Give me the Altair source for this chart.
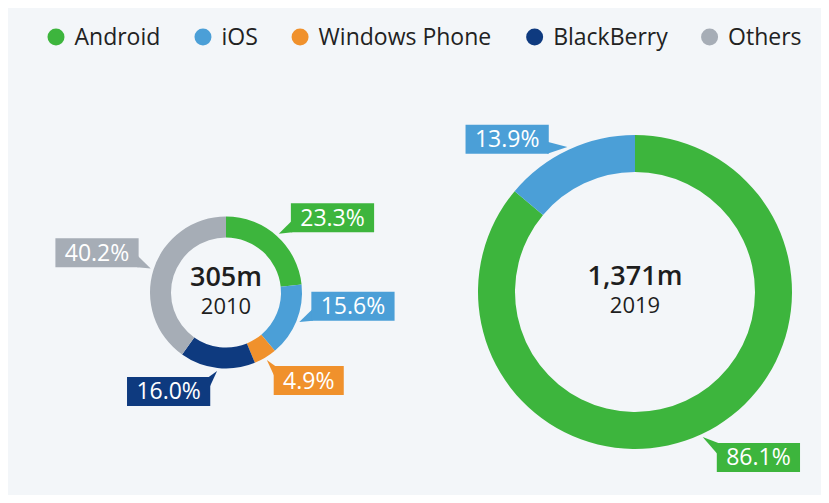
import math
import altair as alt
import pandas as pd

# ---------------- data ----------------
os_names = ["Android", "iOS", "Windows Phone", "BlackBerry", "Others"]
os_colors = ["#3db53d", "#4b9fd7", "#f0912c", "#0e3a7f", "#a6adb6"]

os_2010 = ["Android", "iOS", "Windows Phone", "BlackBerry", "Others"]
share_2010 = [23.3, 15.6, 4.9, 16.0, 40.2]
os_2019 = ["Android", "iOS"]
share_2019 = [86.1, 13.9]

totals = ["305m", "1,371m"]
years = ["2010", "2019"]

# ---------------- layout ----------------
W, H = 813, 487
FONT = "Open Sans"
LABEL_FS = 23
LEGEND_FS = 23
donuts = [
    dict(cx=218, cy=284.5, r=76, r2=55, os=os_2010, share=share_2010, year=years[0], total=totals[0]),
    dict(cx=627, cy=284, r=157, r2=120, os=os_2019, share=share_2019, year=years[1], total=totals[1]),
]

# approximate Open Sans advance widths (em)
CW = {".": 0.267, "%": 0.853, ",": 0.279, " ": 0.260,
      "A": 0.633, "n": 0.614, "d": 0.613, "r": 0.408, "o": 0.604, "i": 0.253,
      "O": 0.781, "S": 0.536, "W": 0.928, "w": 0.801, "s": 0.477, "P": 0.603,
      "h": 0.614, "e": 0.561, "B": 0.633, "l": 0.253, "a": 0.556, "c": 0.476,
      "k": 0.525, "y": 0.501, "t": 0.353}


def text_w(s, fs):
    return sum(CW.get(ch, 0.572) for ch in s) * fs


xs = alt.Scale(domain=[0, W], nice=False, zero=False)
ys = alt.Scale(domain=[0, H], nice=False, zero=False, reverse=True)
cs = alt.Scale(domain=os_names, range=os_colors)

layers = []
box_rows, tri_rows = [], []
for di, d in enumerate(donuts):
    df = pd.DataFrame({"os": d["os"], "share": d["share"], "idx": list(range(len(d["os"])))})
    arc = alt.Chart(df).mark_arc(radius=d["r"], radius2=d["r2"], stroke=None).encode(
        theta=alt.Theta("share:Q", stack=True, scale=alt.Scale(domain=[0, 100])),
        color=alt.Color("os:N", scale=cs, legend=None),
        order=alt.Order("idx:Q"),
        x=alt.value(d["cx"]),
        y=alt.value(d["cy"]),
    )
    layers.append(arc)

    # labels derived from cumulative shares
    r = d["r"]
    cum = 0.0
    for name, v in zip(d["os"], d["share"]):
        mid = math.radians((cum + v / 2) * 3.6)
        cum += v
        s, c = math.sin(mid), math.cos(mid)
        rr = r + 3
        tx, ty = d["cx"] + rr * s, d["cy"] - rr * c
        sx = 1 if s >= 0 else -1
        below = c < -0.5
        if below:
            gx, gy = 0.09 * r, 6
        else:
            gx, gy = 0.08 * r + 6, 0.1 * r - 9
        kx = tx + sx * gx
        ky = ty + gy
        lab = f"{v:.1f}%"
        bw = text_w(lab, LABEL_FS) + 18
        bh = 29
        x1, x2 = sorted([kx, kx + sx * bw])
        y1, y2 = sorted([ky, ky + (bh if below else -bh)])
        key = f"{di}-{name}"
        box_rows.append(dict(os=name, label=lab, x=x1, x2=x2, y=y1, y2=y2,
                             tx=(x1 + x2) / 2, ty=(y1 + y2) / 2, key=key))
        kx_in = kx + sx * 1.5
        tri_rows.append(dict(os=name, key=key, px=tx, py=ty, py2=ty))
        tri_rows.append(dict(os=name, key=key, px=kx_in, py=ky, py2=ky + (12 if below else -12)))

boxes = pd.DataFrame(box_rows)
tris = pd.DataFrame(tri_rows)

tri_layer = alt.Chart(tris).mark_area(orient="vertical", opacity=1).encode(
    x=alt.X("px:Q", scale=xs, axis=None),
    y=alt.Y("py:Q", scale=ys, axis=None),
    y2="py2:Q",
    detail="key:N",
    color=alt.Color("os:N", scale=cs, legend=None),
)
rect_layer = alt.Chart(boxes).mark_rect(opacity=1).encode(
    x=alt.X("x:Q", scale=xs, axis=None),
    x2="x2:Q",
    y=alt.Y("y:Q", scale=ys, axis=None),
    y2="y2:Q",
    color=alt.Color("os:N", scale=cs, legend=None),
)
text_layer = alt.Chart(boxes).mark_text(
    font=FONT, fontSize=LABEL_FS, color="white", align="center", baseline="middle", dy=1
).encode(
    x=alt.X("tx:Q", scale=xs, axis=None),
    y=alt.Y("ty:Q", scale=ys, axis=None),
    text="label:N",
)
layers += [tri_layer, rect_layer, text_layer]

# centre texts
for d in donuts:
    big = alt.Chart(pd.DataFrame({"t": [d["total"]]})).mark_text(
        font=FONT, fontSize=27, fontWeight=600, color="#1e1e1e",
        align="center", baseline="alphabetic"
    ).encode(x=alt.value(d["cx"]), y=alt.value(d["cy"] - 7), text="t:N")
    yr = alt.Chart(pd.DataFrame({"t": [d["year"]]})).mark_text(
        font=FONT, fontSize=22, color="#1e1e1e", align="center", baseline="alphabetic"
    ).encode(x=alt.value(d["cx"]), y=alt.value(d["cy"] + 21), text="t:N")
    layers += [big, yr]

# manual horizontal legend
SYM_D = 17
cursor = 39.5
leg_rows = []
for name in os_names:
    sym_x = cursor + SYM_D / 2
    lab_x = cursor + SYM_D + 10
    leg_rows.append(dict(os=name, sx=sym_x, lx=lab_x, ly=29))
    cursor = lab_x + text_w(name, LEGEND_FS) + 34
leg = pd.DataFrame(leg_rows)
leg_sym = alt.Chart(leg).mark_point(shape="circle", filled=True, size=SYM_D ** 2, opacity=1).encode(
    x=alt.X("sx:Q", scale=xs, axis=None),
    y=alt.Y("ly:Q", scale=ys, axis=None),
    color=alt.Color("os:N", scale=cs, legend=None),
)
leg_txt = alt.Chart(leg).mark_text(
    font=FONT, fontSize=LEGEND_FS, color="#222222", align="left", baseline="middle", dy=1
).encode(
    x=alt.X("lx:Q", scale=xs, axis=None),
    y=alt.Y("ly:Q", scale=ys, axis=None),
    text="os:N",
)
layers += [leg_sym, leg_txt]

chart = alt.layer(*layers).properties(
    width=W, height=H, padding=0, autosize="none", background="#f3f6f9"
).configure_view(stroke=None)

chart.save("out.html", embed_options={"renderer": "svg", "actions": False})
